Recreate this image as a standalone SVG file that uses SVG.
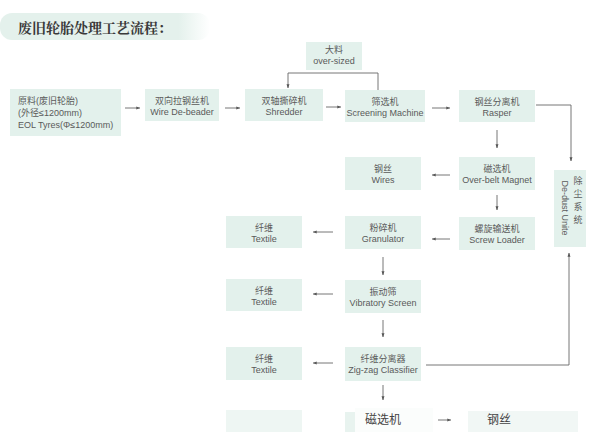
<svg xmlns="http://www.w3.org/2000/svg" width="597" height="432" viewBox="0 0 597 432">
<defs>
<marker id="ah" viewBox="0 0 6 6" refX="5.5" refY="3" markerWidth="4.5" markerHeight="4.5" orient="auto"><path d="M0,0.8 L6,3 L0,5.2 z" fill="#555"/></marker>
<linearGradient id="tg" x1="0" x2="1" y1="0" y2="0"><stop offset="0" stop-color="#e4f1ec"/><stop offset="0.85" stop-color="#e4f1ec"/><stop offset="1" stop-color="#e4f1ec" stop-opacity="0"/></linearGradient>
</defs>
<style>
.bx{fill:#e3f1ec}
.t{font-family:"Liberation Sans","Noto Sans CJK SC",sans-serif;font-size:9px;fill:#5a5a5a;text-anchor:middle}
.tl{font-family:"Liberation Sans","Noto Sans CJK SC",sans-serif;font-size:9px;fill:#5a5a5a}
.c{stroke:#666;stroke-width:0.9;fill:none}
.a{stroke:#666;stroke-width:0.9;fill:none;marker-end:url(#ah)}
</style>
<rect width="597" height="432" fill="#ffffff"/>
<g id="title">
<rect x="0" y="13" width="210" height="27" rx="12" fill="url(#tg)"/>
<text x="18" y="33" style="font-family:'Noto Serif CJK SC','Noto Sans CJK SC',serif;font-size:14px;font-weight:bold;fill:#3a3a3a">废旧轮胎处理工艺流程：</text>
</g>
<g id="raw"><rect class="bx" x="10" y="89" width="111" height="47"/>
<text class="tl" x="18" y="104">原料(废旧轮胎)</text>
<text class="tl" x="18" y="116">(外径≤1200mm)</text>
<text class="tl" x="18" y="128">EOL Tyres(Φ≤1200mm)</text></g>
<g id="debeader"><rect class="bx" x="145" y="89" width="74" height="32"/>
<text class="t" x="182" y="104">双向拉钢丝机</text><text class="t" x="182" y="115">Wire De-beader</text></g>
<g id="shredder"><rect class="bx" x="245" y="89" width="78" height="32"/>
<text class="t" x="284" y="104">双轴撕碎机</text><text class="t" x="284" y="115">Shredder</text></g>
<g id="oversized"><rect class="bx" x="306" y="42" width="56" height="28"/>
<text class="t" x="334" y="53">大料</text><text class="t" x="334" y="64">over-sized</text></g>
<g id="screening"><rect class="bx" x="345" y="90" width="80" height="32"/>
<text class="t" x="385" y="105">筛选机</text><text class="t" x="385" y="116">Screening Machine</text></g>
<g id="rasper"><rect class="bx" x="459" y="90" width="76" height="32"/>
<text class="t" x="497" y="105">钢丝分离机</text><text class="t" x="497" y="116">Rasper</text></g>
<g id="dedust"><rect class="bx" x="554" y="170" width="32" height="77"/>
<text class="t" transform="translate(562,208) rotate(90)">De-dust Unite</text>
<text class="t" x="578" y="184">除</text><text class="t" x="578" y="197">尘</text><text class="t" x="578" y="210">系</text><text class="t" x="578" y="223">统</text></g>
<g id="magnet"><rect class="bx" x="459" y="157" width="76" height="33"/>
<text class="t" x="497" y="172">磁选机</text><text class="t" x="497" y="183">Over-belt Magnet</text></g>
<g id="wires"><rect class="bx" x="345" y="157" width="76" height="33"/>
<text class="t" x="383" y="172">钢丝</text><text class="t" x="383" y="183">Wires</text></g>
<g id="screw"><rect class="bx" x="459" y="217" width="76" height="33"/>
<text class="t" x="497" y="232">螺旋输送机</text><text class="t" x="497" y="243">Screw Loader</text></g>
<g id="granulator"><rect class="bx" x="345" y="216" width="76" height="33"/>
<text class="t" x="383" y="231">粉碎机</text><text class="t" x="383" y="242">Granulator</text></g>
<g id="textile1"><rect class="bx" x="226" y="216" width="76" height="32"/>
<text class="t" x="264" y="231">纤维</text><text class="t" x="264" y="242">Textile</text></g>
<g id="vibratory"><rect class="bx" x="345" y="280" width="76" height="33"/>
<text class="t" x="383" y="295">振动筛</text><text class="t" x="383" y="306">Vibratory Screen</text></g>
<g id="textile2"><rect class="bx" x="226" y="279" width="76" height="32"/>
<text class="t" x="264" y="294">纤维</text><text class="t" x="264" y="305">Textile</text></g>
<g id="zigzag"><rect class="bx" x="345" y="347" width="76" height="34"/>
<text class="t" x="383" y="362">纤维分离器</text><text class="t" x="383" y="373">Zig-zag Classifier</text></g>
<g id="textile3"><rect class="bx" x="226" y="347" width="76" height="33"/>
<text class="t" x="264" y="362">纤维</text><text class="t" x="264" y="373">Textile</text></g>
<g id="bottom">
<rect x="226" y="410" width="76" height="22" fill="#eef6f3"/>
<rect x="345" y="412" width="88" height="20" fill="#e8f3ef"/>
<rect x="355" y="408" width="78" height="24" fill="#fbfdfc"/>
<rect x="468" y="411" width="110" height="21" fill="#f1f7f5"/>
<text x="365" y="424" style="font-family:'Noto Sans CJK SC',sans-serif;font-size:12px;fill:#444">磁选机</text>
<text x="487" y="424" style="font-family:'Noto Sans CJK SC',sans-serif;font-size:12px;fill:#444">钢丝</text>
</g>
<g id="connectors">
<path class="a" d="M125,108 H140"/>
<path class="a" d="M225,108 H240"/>
<path class="a" d="M326,107 H341"/>
<path class="a" d="M378,90 V73 H288 V88"/>
<path class="a" d="M432,108 H450"/>
<path class="c" d="M536,105 H571"/>
<path class="a" d="M571,105 V161"/>
<path class="a" d="M497,130 V148"/>
<path class="a" d="M450,175 H432"/>
<path class="a" d="M497,195 V210"/>
<path class="a" d="M450,239 H432"/>
<path class="a" d="M333,232 H313"/>
<path class="a" d="M383,257 V275"/>
<path class="a" d="M333,294 H313"/>
<path class="a" d="M383,320 V337"/>
<path class="a" d="M333,363 H313"/>
<path class="c" d="M426,365 H569"/>
<path class="a" d="M569,365 V253"/>
<path class="a" d="M383,385 V400"/>
<path class="a" d="M438,420 H451"/>
</g>
</svg>
